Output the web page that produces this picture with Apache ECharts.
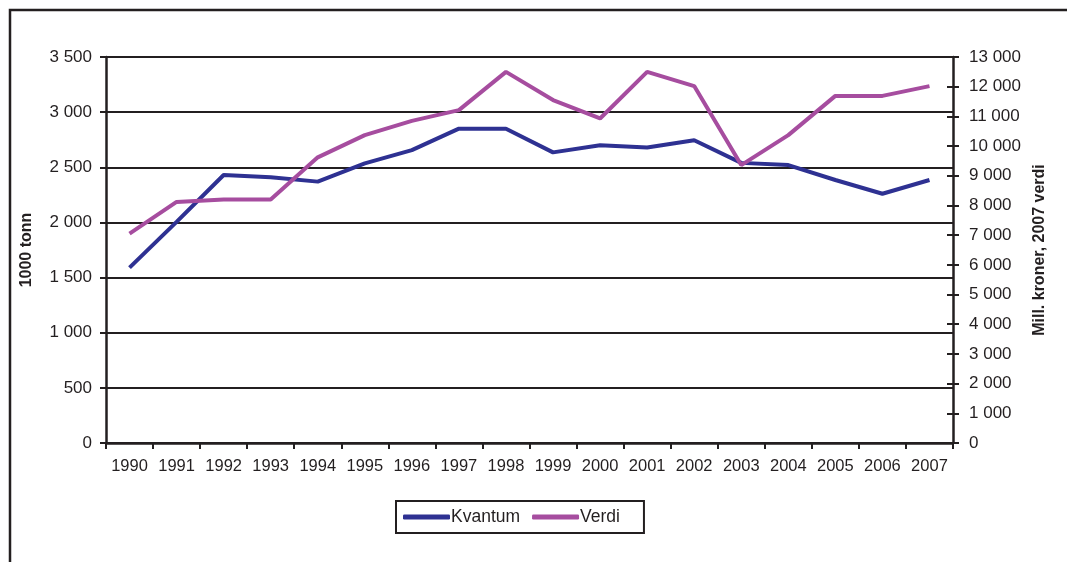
<!DOCTYPE html>
<html>
<head>
<meta charset="utf-8">
<script src="https://cdn.jsdelivr.net/npm/echarts@6/dist/echarts.min.js"></script>
<style>
html,body{margin:0;padding:0;background:#fff;}
#c{width:1067px;height:562px;}
</style>
</head>
<body>
<div id="c"></div>
<script>
const years = ['1990','1991','1992','1993','1994','1995','1996','1997','1998','1999','2000','2001','2002','2003','2004','2005','2006','2007'];
const kvantum = [1590, 2005, 2430, 2410, 2370, 2535, 2655, 2850, 2850, 2635, 2700, 2680, 2745, 2540, 2520, 2385, 2260, 2385];
const verdi = [7050, 8120, 8200, 8200, 9620, 10370, 10850, 11210, 12500, 11550, 10930, 12500, 12020, 9360, 10370, 11690, 11690, 12020];
const leftName = '1000 tonn';
const rightName = 'Mill. kroner, 2007 verdi';

const fmt = v => String(v).replace(/\B(?=(\d{3})+(?!\d))/g, ' ');
const ink = '#231f20';
const font = 'Liberation Sans';

const chart = echarts.init(document.getElementById('c'), null, {renderer:'canvas'});
chart.setOption({
  backgroundColor:'#fff',
  animation:false,
  graphic:[{type:'rect', shape:{x:10,y:10,width:1080,height:600}, style:{fill:'none', stroke:ink, lineWidth:2.5}, z:-1}],
  grid:{left:106, right:114, top:57, bottom:119, containLabel:false},
  legend:{
    left:396, top:501,
    padding:[7,24,7,7],
    borderColor:ink, borderWidth:2,
    icon:'roundRect',
    itemWidth:47, itemHeight:5, itemGap:12,
    textStyle:{fontFamily:font, fontSize:17.5, color:ink, padding:[0,0,0,-4]},
    data:['Kvantum','Verdi']
  },
  xAxis:{
    type:'category', data:years, boundaryGap:true,
    axisLine:{lineStyle:{color:ink, width:2.5}},
    axisTick:{show:true, interval:0, length:6, lineStyle:{color:ink, width:2}},
    axisLabel:{interval:0, fontFamily:font, fontSize:16.5, color:ink, margin:15}
  },
  yAxis:[{
    type:'value', min:0, max:3500, interval:500, position:'left',
    name:leftName, nameLocation:'middle', nameRotate:90, nameGap:71,
    nameTextStyle:{fontFamily:font, fontSize:16, fontWeight:'bold', color:ink},
    axisLine:{show:true, lineStyle:{color:ink, width:2.5}},
    axisTick:{show:true, length:6, lineStyle:{color:ink, width:2}},
    axisLabel:{fontFamily:font, fontSize:17, color:ink, margin:14, formatter:fmt},
    splitLine:{show:true, lineStyle:{color:ink, width:2}}
  },{
    type:'value', min:0, max:13000, interval:1000, position:'right',
    name:rightName, nameLocation:'middle', nameRotate:90, nameGap:78,
    nameTextStyle:{fontFamily:font, fontSize:16, fontWeight:'bold', color:ink},
    axisLine:{show:true, lineStyle:{color:ink, width:2.5}},
    axisTick:{show:false},
    axisLabel:{fontFamily:font, fontSize:17, color:ink, margin:16, formatter:fmt},
    splitLine:{show:false}
  },{
    type:'value', min:0, max:13000, interval:1000, position:'right', offset:-6,
    axisLine:{show:false},
    axisTick:{show:true, length:12, lineStyle:{color:ink, width:2}},
    axisLabel:{show:false},
    splitLine:{show:false}
  }],
  series:[{
    name:'Kvantum', type:'line', yAxisIndex:0, data:kvantum,
    symbol:'none', lineStyle:{color:'#2e3192', width:4}, itemStyle:{color:'#2e3192'}
  },{
    name:'Verdi', type:'line', yAxisIndex:1, data:verdi,
    symbol:'none', lineStyle:{color:'#a64d9f', width:4}, itemStyle:{color:'#a64d9f'}
  }]
});
</script>
</body>
</html>
